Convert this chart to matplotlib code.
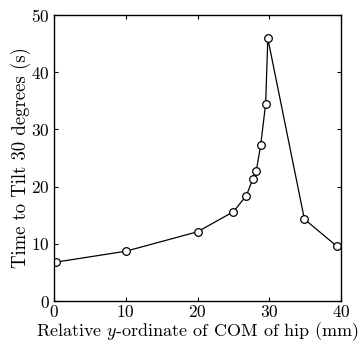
import matplotlib
matplotlib.use("Agg")
import matplotlib.pyplot as plt

x_vals = [0.3, 10.0, 20.0, 25.0, 26.8, 27.7, 28.2, 28.8, 29.5, 29.8, 34.9, 39.4]
y_vals = [6.8, 8.7, 12.1, 15.6, 18.4, 21.3, 22.8, 27.2, 34.5, 45.9, 14.3, 9.6]
x_ticks = [0, 10, 20, 30, 40]
y_ticks = [0, 10, 20, 30, 40, 50]

plt.rcParams['font.family'] = 'serif'
plt.rcParams['font.serif'] = ['cmr10']
plt.rcParams['mathtext.fontset'] = 'cm'
plt.rcParams['axes.formatter.use_mathtext'] = True

fig = plt.figure(figsize=(3.58, 3.45), dpi=100)
ax = fig.add_axes([54/358, 1-301/345, 287/358, 286/345])
ax.plot(x_vals, y_vals, color='black', lw=0.9, marker='o', ms=5.5,
        mfc='white', mec='black', mew=0.9)
ax.set_xlim(0, 40)
ax.set_ylim(0, 50)
ax.set_xticks(x_ticks)
ax.set_yticks(y_ticks)
ax.tick_params(direction='in', top=True, right=True, labelsize=12.5, length=3, width=0.8)
ax.tick_params(axis='x', pad=2)
ax.tick_params(axis='y', pad=3)
for s in ax.spines.values():
    s.set_linewidth(1.0)
ax.set_xlabel(r'Relative $y$-ordinate of COM of hip (mm)', fontsize=13, labelpad=0.5)
ax.set_ylabel('Time to Tilt 30 degrees (s)', fontsize=13.5, labelpad=0)
fig.savefig('out.png', dpi=100)
